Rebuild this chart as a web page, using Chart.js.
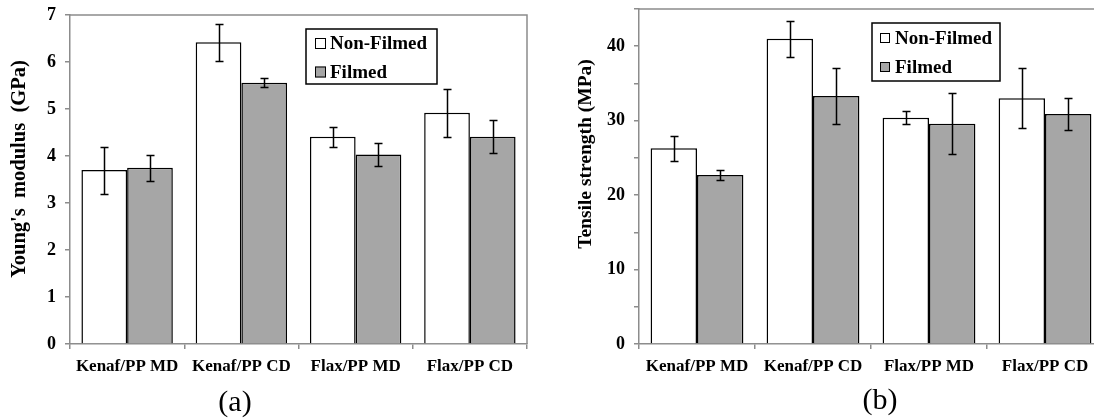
<!DOCTYPE html>
<html>
<head>
<meta charset="utf-8">
<script src="https://cdn.jsdelivr.net/npm/chart.js@4.4.1/dist/chart.umd.min.js"></script>
<style>
  html, body { margin: 0; padding: 0; background: #fff; }
  #wrap { position: relative; width: 1094px; height: 420px; overflow: hidden; }
  .panel { position: absolute; top: 0; height: 420px; overflow: hidden; }
</style>
</head>
<body>
<div id="wrap">
  <div class="panel" style="left:0;width:547px"><canvas id="modulusChart" width="547" height="420"></canvas></div>
  <div class="panel" style="left:547px;width:547px"><canvas id="strengthChart" width="580" height="420"></canvas></div>
</div>
<script>
const categories = ['Kenaf/PP MD', 'Kenaf/PP CD', 'Flax/PP MD', 'Flax/PP CD'];
const seriesNames = ['Non-Filmed', 'Filmed'];

// (a) Young's modulus, GPa
const modulusNonFilmed = [3.70, 6.42, 4.41, 4.92];
const modulusNonFilmedErr = [0.50, 0.39, 0.21, 0.51];
const modulusFilmed = [3.75, 5.56, 4.03, 4.41];
const modulusFilmedErr = [0.28, 0.10, 0.25, 0.35];

// (b) Tensile strength, MPa
const strengthNonFilmed = [26.3, 41.0, 30.4, 33.0];
const strengthNonFilmedErr = [1.7, 2.4, 0.9, 4.05];
const strengthFilmed = [22.7, 33.3, 29.6, 30.9];
const strengthFilmedErr = [0.67, 3.75, 4.1, 2.2];

const serif = '"Liberation Serif", "Times New Roman", serif';
const axisGray = '#8c8c8c';
const barGray = '#a6a6a6';

// error bars, plot frame, rotated y title, boxed legend and panel caption
const figurePlugin = {
    id: 'figure',
    afterDatasetsDraw(chart, args, opts) {
        const ctx = chart.ctx;
        const y = chart.scales.y;
        ctx.save();
        ctx.strokeStyle = '#000';
        ctx.lineWidth = 1.5;
        chart.data.datasets.forEach((ds, i) => {
            chart.getDatasetMeta(i).data.forEach((bar, j) => {
                const top = Math.round(y.getPixelForValue(ds.data[j] + ds.errors[j])) + 0.5;
                const bot = Math.round(y.getPixelForValue(ds.data[j] - ds.errors[j])) + 0.5;
                const x = Math.round(bar.x) + 0.5;
                ctx.beginPath();
                ctx.moveTo(x, top); ctx.lineTo(x, bot);
                ctx.moveTo(x - 4, top); ctx.lineTo(x + 4, top);
                ctx.moveTo(x - 4, bot); ctx.lineTo(x + 4, bot);
                ctx.stroke();
            });
        });
        ctx.restore();
    },
    afterDraw(chart, args, opts) {
        const ctx = chart.ctx;
        const area = chart.chartArea;
        ctx.save();

        // top and right edges of the plot frame
        ctx.strokeStyle = axisGray;
        ctx.lineWidth = 1.5;
        ctx.beginPath();
        ctx.moveTo(area.left, area.top);
        ctx.lineTo(area.right, area.top);
        ctx.lineTo(area.right, area.bottom);
        ctx.stroke();

        // y axis title
        ctx.fillStyle = '#000';
        ctx.save();
        ctx.translate(opts.title.x, opts.title.y);
        ctx.rotate(-Math.PI / 2);
        ctx.font = 'bold ' + opts.title.size + 'px ' + serif;
        ctx.textAlign = 'center';
        ctx.textBaseline = 'middle';
        ctx.fillText(opts.title.text, 0, 0);
        ctx.restore();

        // legend
        const lg = opts.legend;
        ctx.strokeStyle = '#000';
        ctx.lineWidth = 1.5;
        ctx.strokeRect(lg.x, lg.y, lg.w, lg.h);
        ctx.font = 'bold 19px ' + serif;
        ctx.textAlign = 'left';
        ctx.textBaseline = 'middle';
        chart.data.datasets.forEach((ds, i) => {
            const cy = lg.rows[i];
            ctx.fillStyle = ds.backgroundColor;
            ctx.fillRect(lg.boxX, cy - lg.box / 2, lg.box, lg.box);
            ctx.lineWidth = 1;
            ctx.strokeRect(lg.boxX + 0.5, cy - lg.box / 2 + 0.5, lg.box - 1, lg.box - 1);
            ctx.fillStyle = '#000';
            ctx.fillText(ds.label, lg.textX, cy + 1);
        });

        // caption
        ctx.font = '30px ' + serif;
        ctx.textAlign = 'center';
        ctx.fillText(opts.caption.text, opts.caption.x, opts.caption.y);
        ctx.restore();
    }
};

function makeChart(id, nonFilmed, nonFilmedErr, filmed, filmedErr, yMax, yStep, labelStep, axisWidth, pad, extras) {
    const ctx = document.getElementById(id).getContext('2d');
    return new Chart(ctx, {
        type: 'bar',
        data: {
            labels: categories,
            datasets: [
                {
                    label: seriesNames[0],
                    data: nonFilmed,
                    errors: nonFilmedErr,
                    backgroundColor: '#ffffff',
                    borderColor: '#000',
                    borderWidth: 1.5
                },
                {
                    label: seriesNames[1],
                    data: filmed,
                    errors: filmedErr,
                    backgroundColor: barGray,
                    borderColor: '#000',
                    borderWidth: 1.5
                }
            ]
        },
        options: {
            responsive: false,
            animation: false,
            devicePixelRatio: 1,
            categoryPercentage: 0.8,
            barPercentage: 1.0,
            layout: { padding: pad },
            plugins: {
                legend: { display: false },
                tooltip: { enabled: false },
                figure: extras
            },
            scales: {
                x: {
                    grid: { offset: true, drawOnChartArea: false, tickLength: 5, color: axisGray, lineWidth: 1.5 },
                    border: { color: axisGray, width: 1.5 },
                    ticks: { color: '#000', padding: 7, maxRotation: 0, font: { family: serif, size: 17, weight: 'bold' } },
                    afterFit: s => { s.height = 76; s.paddingLeft = 0; s.paddingRight = 0; }
                },
                y: {
                    min: 0,
                    max: yMax,
                    grid: { drawOnChartArea: false, tickLength: 5, color: axisGray, lineWidth: 1.5 },
                    border: { color: axisGray, width: 1.5 },
                    ticks: {
                        stepSize: yStep,
                        color: '#000',
                        padding: 9,
                        font: { family: serif, size: 18, weight: 'bold' },
                        callback: v => (v % labelStep === 0 ? v : '')
                    },
                    afterFit: s => { s.width = axisWidth; s.paddingTop = 0; s.paddingBottom = 0; }
                }
            }
        },
        plugins: [figurePlugin]
    });
}

makeChart('modulusChart', modulusNonFilmed, modulusNonFilmedErr, modulusFilmed, modulusFilmedErr,
    7, 0.5, 1, 70, { top: 15, right: 20, left: 0, bottom: 0 }, {
        title: { text: "Young's  modulus  (GPa)", x: 20, y: 169, size: 20.5 },
        legend: { x: 306, y: 29, w: 131, h: 55, boxX: 315, box: 11, textX: 330, rows: [43.5, 72] },
        caption: { text: '(a)', x: 235, y: 403 }
    });

makeChart('strengthChart', strengthNonFilmed, strengthNonFilmedErr, strengthFilmed, strengthFilmedErr,
    45, 5, 10, 92, { top: 9, right: 24, left: 0, bottom: 0 }, {
        title: { text: 'Tensile strength (MPa)', x: 39, y: 154, size: 19.5 },
        legend: { x: 325, y: 23, w: 128, h: 58, boxX: 333, box: 10, textX: 348, rows: [38, 67] },
        caption: { text: '(b)', x: 333, y: 401 }
    });
</script>
</body>
</html>
